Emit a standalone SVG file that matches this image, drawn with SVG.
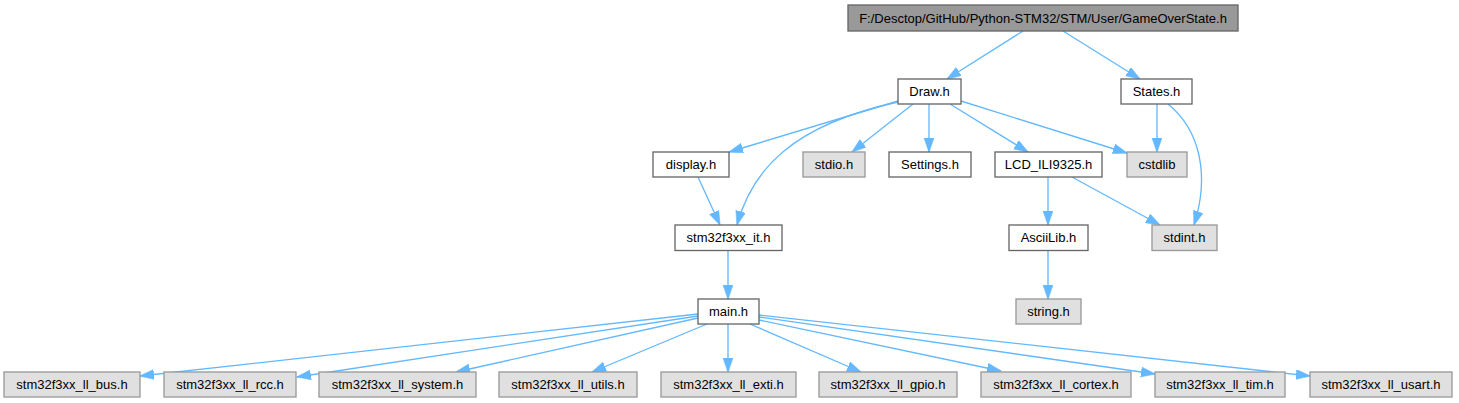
<svg xmlns="http://www.w3.org/2000/svg" width="1459" height="403" viewBox="0 0 1459 403">
<style>
  .n rect { fill: #ffffff; stroke: #666666; stroke-width: 1.33; }
  .g rect { fill: #e0e0e0; stroke: #999999; stroke-width: 1.33; }
  .root rect { fill: #999999; stroke: #666666; stroke-width: 1.33; }
  text { font-family: "Liberation Sans", Arial, sans-serif; font-size: 13px; fill: #000000; text-anchor: middle; }
  .e path { fill: none; stroke: #63b8ff; stroke-width: 1.33; marker-end: url(#ah); }
</style>
<defs>
  <marker id="ah" markerUnits="userSpaceOnUse" markerWidth="15" markerHeight="11" refX="14" refY="5" orient="auto">
    <path d="M0,0 L14.5,5 L0,10 z" fill="#63b8ff" stroke="#63b8ff" stroke-width="0.5"/>
  </marker>
</defs>
<rect width="1459" height="403" fill="#ffffff"/>
<g class="e" id="edges">
  <path d="M1023,31 L947,79"/>
  <path d="M1063,31 L1140,79"/>
  <path d="M898,101 L729,152"/>
  <path d="M898,102 C792,125 752,170 737,225"/>
  <path d="M913,104 L852,152"/>
  <path d="M929,104 L929,152"/>
  <path d="M950,104 L1028,152"/>
  <path d="M961,101 L1127,153"/>
  <path d="M1157,104 L1157,152"/>
  <path d="M1168,104 C1200,130 1210,175 1194,225"/>
  <path d="M1048,177 L1048,225"/>
  <path d="M1072,177 L1160,225"/>
  <path d="M698,177 L720,225"/>
  <path d="M728,251 L728,299"/>
  <path d="M1048,250 L1048,299"/>
  <path d="M698,314 L140,376"/>
  <path d="M698,316 L297,377"/>
  <path d="M698,318 L456,372"/>
  <path d="M707,324 L592,372"/>
  <path d="M728,324 L728,372"/>
  <path d="M750,324 L861,372"/>
  <path d="M759,320 L1001,371"/>
  <path d="M759,317 L1155,374"/>
  <path d="M759,315 L1310,376"/>
</g>
<g id="node_root" class="root"><rect x="848" y="5" width="390" height="26"/><text x="1043" y="22.5">F:/Desctop/GitHub/Python-STM32/STM/User/GameOverState.h</text></g>
<g id="node_draw" class="n"><rect x="898" y="79" width="63" height="25"/><text x="929.5" y="96">Draw.h</text></g>
<g id="node_states" class="n"><rect x="1121" y="79" width="71" height="25"/><text x="1156.5" y="96">States.h</text></g>
<g id="node_display" class="n"><rect x="653" y="152" width="76" height="25"/><text x="691" y="169">display.h</text></g>
<g id="node_stdio" class="g"><rect x="803" y="152" width="62" height="25"/><text x="834" y="169">stdio.h</text></g>
<g id="node_settings" class="n"><rect x="889" y="152" width="82" height="25"/><text x="930" y="169">Settings.h</text></g>
<g id="node_lcd" class="n"><rect x="995" y="152" width="107" height="25"/><text x="1048.5" y="169">LCD_ILI9325.h</text></g>
<g id="node_cstdlib" class="g"><rect x="1127" y="152" width="60" height="25"/><text x="1157" y="169">cstdlib</text></g>
<g id="node_it" class="n"><rect x="675" y="225" width="107" height="25.5"/><text x="728.5" y="242">stm32f3xx_it.h</text></g>
<g id="node_ascii" class="n"><rect x="1009" y="225" width="79" height="25.5"/><text x="1048.5" y="242">AsciiLib.h</text></g>
<g id="node_stdint" class="g"><rect x="1152" y="225" width="65" height="25.5"/><text x="1184.5" y="242">stdint.h</text></g>
<g id="node_main" class="n"><rect x="698" y="299" width="61" height="25"/><text x="728.5" y="316">main.h</text></g>
<g id="node_string" class="g"><rect x="1016" y="299" width="65" height="25"/><text x="1048.5" y="316">string.h</text></g>
<g id="node_bus" class="g"><rect x="4" y="372" width="136" height="25"/><text x="72" y="389">stm32f3xx_ll_bus.h</text></g>
<g id="node_rcc" class="g"><rect x="164" y="372" width="132" height="25"/><text x="230" y="389">stm32f3xx_ll_rcc.h</text></g>
<g id="node_system" class="g"><rect x="319" y="372" width="157" height="25"/><text x="397.5" y="389">stm32f3xx_ll_system.h</text></g>
<g id="node_utils" class="g"><rect x="499" y="372" width="138" height="25"/><text x="568" y="389">stm32f3xx_ll_utils.h</text></g>
<g id="node_exti" class="g"><rect x="661" y="372" width="135" height="25"/><text x="728.5" y="389">stm32f3xx_ll_exti.h</text></g>
<g id="node_gpio" class="g"><rect x="819" y="372" width="138" height="25"/><text x="888" y="389">stm32f3xx_ll_gpio.h</text></g>
<g id="node_cortex" class="g"><rect x="981" y="372" width="150" height="25"/><text x="1056" y="389">stm32f3xx_ll_cortex.h</text></g>
<g id="node_tim" class="g"><rect x="1155" y="372" width="130" height="25"/><text x="1220" y="389">stm32f3xx_ll_tim.h</text></g>
<g id="node_usart" class="g"><rect x="1310" y="372" width="142" height="25"/><text x="1381" y="389">stm32f3xx_ll_usart.h</text></g>
</svg>
